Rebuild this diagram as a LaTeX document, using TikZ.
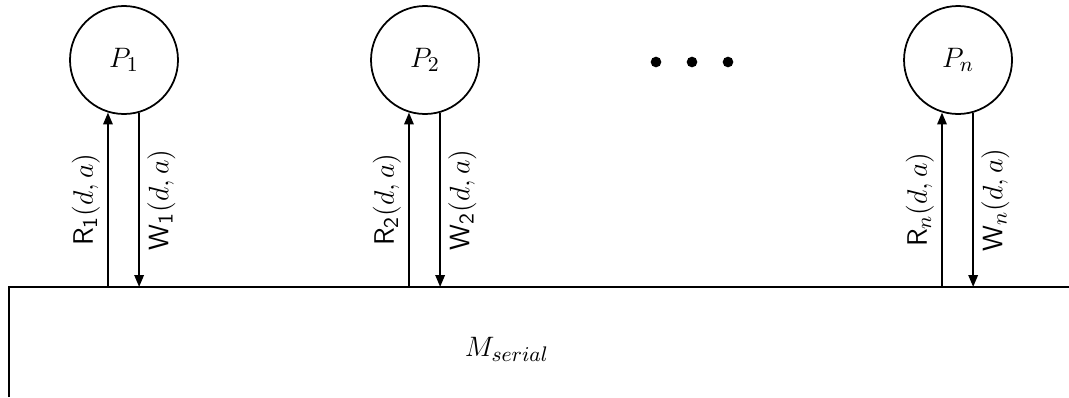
\documentclass[tikz,border=0pt]{standalone}
\usepackage{amsmath}
\usepackage{amsfonts}
\usepackage{tikz}
\usetikzlibrary{shapes, arrows.meta, positioning}
\tikzstyle{every node}=[font=\fontsize{13}{15.5}\selectfont]
\tikzstyle{proc}=[draw, circle, line width=0.75pt, minimum size=1.62cm, inner sep=0pt]
\tikzstyle{bus}=[-{Triangle[length=0.18cm, width=0.14cm]}, line width=0.95pt]
\tikzstyle{rlab}=[midway, rotate=90, anchor=south, inner sep=3pt]
\tikzstyle{wlab}=[midway, rotate=90, anchor=north, inner sep=3pt]
\tikzstyle{dot}=[circle, fill, inner sep=0pt, minimum size=0.16cm]

\begin{document}
\begin{tikzpicture}[x=0.015cm, y=0.015cm]
  \useasboundingbox (0,0) rectangle (1069,397);
  \node[proc] (P1) at (124,337) {$P_1$};
  \node[proc, right of=P1, node distance=4.515cm] (P2) {$P_2$};
  \node[proc, right of=P2, node distance=7.995cm] (Pn) {$P_n$};
  \node[dot] (d1) at (656,335) {};
  \node[dot, right of=d1, node distance=0.54cm] (d2) {};
  \node[dot, right of=d2, node distance=0.54cm] (d3) {};
  % memory
  \coordinate (Mtop) at (9,110);
  \coordinate (Mbot) at (9,0);
  \coordinate (Mend) at (1069,110);
  \draw[line width=0.95pt] (Mbot) -- (Mtop) -- (Mend);
  \node (Mser) at (507,48) {$M_{serial}$};
  % reads and writes
  \draw[bus] (P1.253.9 |- Mtop) -- node[rlab] {$\mathsf{R}_{\mathsf{1}}(d,a)$} (P1.253.9);
  \draw[bus] (P1.286.1) -- node[wlab] {$\mathsf{W}_{\mathsf{1}}(d,a)$} (P1.286.1 |- Mtop);
  \draw[bus] (P2.253.9 |- Mtop) -- node[rlab] {$\mathsf{R}_{\mathsf{2}}(d,a)$} (P2.253.9);
  \draw[bus] (P2.286.1) -- node[wlab] {$\mathsf{W}_{\mathsf{2}}(d,a)$} (P2.286.1 |- Mtop);
  \draw[bus] (Pn.253.9 |- Mtop) -- node[rlab] {$\mathsf{R}_n(d,a)$} (Pn.253.9);
  \draw[bus] (Pn.286.1) -- node[wlab] {$\mathsf{W}_n(d,a)$} (Pn.286.1 |- Mtop);
\end{tikzpicture}
\end{document}
